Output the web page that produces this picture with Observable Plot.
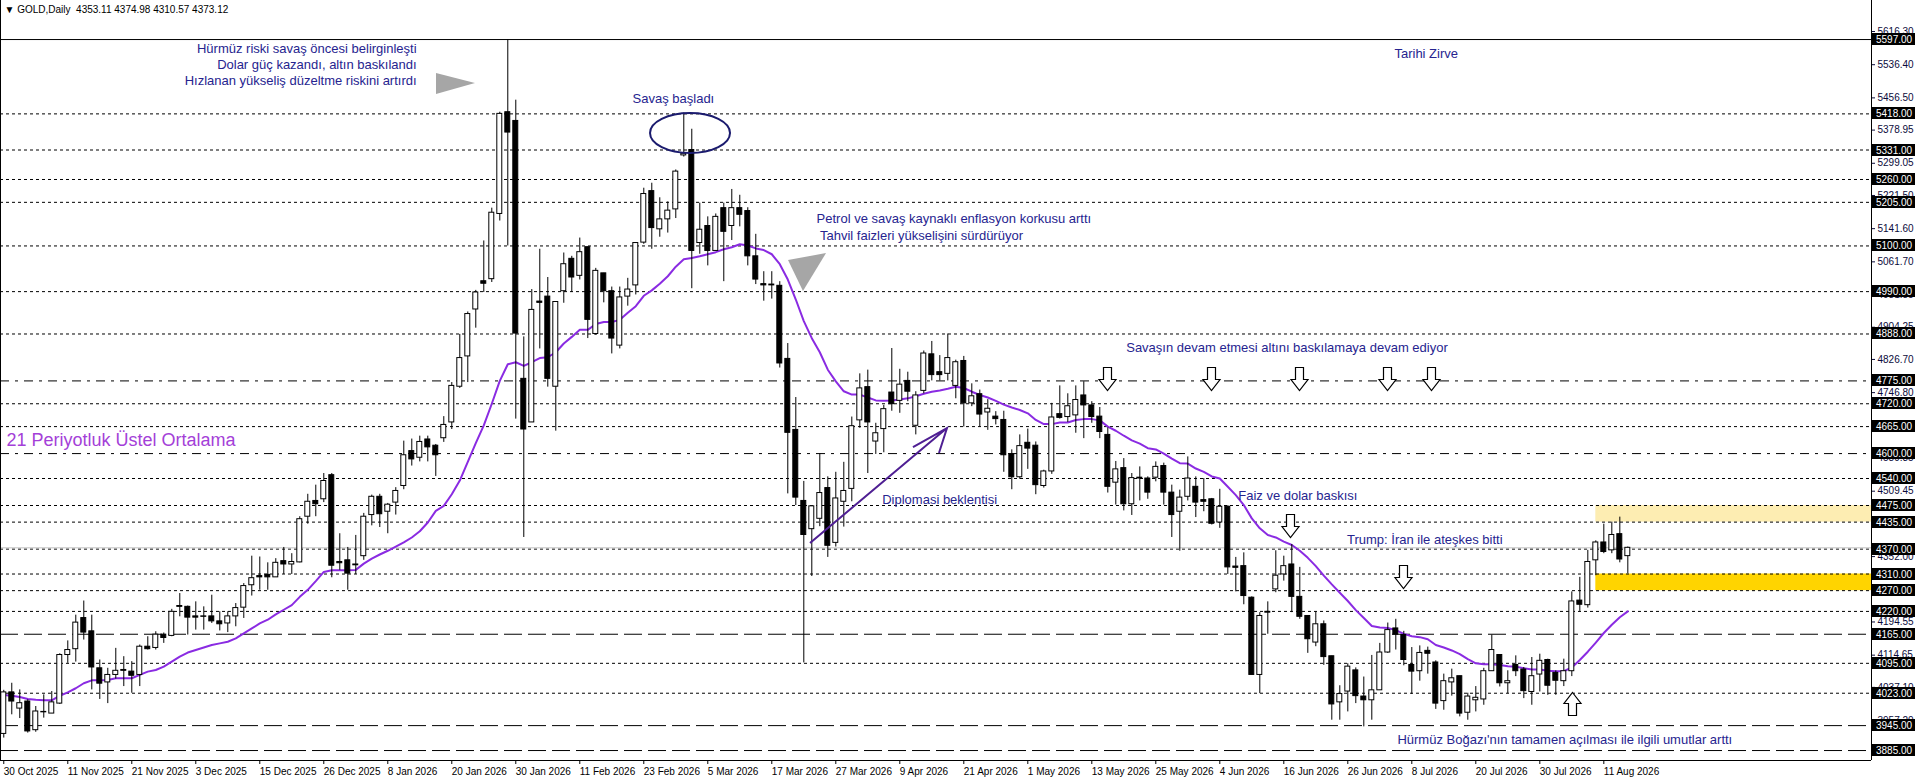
<!DOCTYPE html>
<html><head><meta charset="utf-8">
<script src="https://cdn.jsdelivr.net/npm/d3@7"></script>
<script src="https://cdn.jsdelivr.net/npm/@observablehq/plot@0.6"></script>
<style>html,body{margin:0;padding:0;background:#fff;overflow:hidden}#chart svg{display:block}</style>
</head><body><div id="chart"></div>
<script>
// ---------- DATA ----------
const symbolLabel = "GOLD,Daily";
const firstDate = "2025-10-30";
const holidays = ["2025-12-25", "2026-01-01", "2026-04-03"];

const opens = [3925,4025,3986,4003,3934,3977,3974,3998,4115,4129,
4204,4172,4083,4049,4067,4079,4075,4067,4135,4132,
4164,4161,4233,4231,4208,4208,4208,4196,4191,4208,
4229,4283,4305,4308,4302,4341,4333,4338,4448,4486,
4490,4548,4339,4343,4333,4353,4452,4496,4460,4482,
4522,4606,4590,4634,4619,4637,4675,4761,4834,4947,
5015,5020,5177,5422,5401,4780,4675,4966,4978,4761,
4991,5069,5028,5097,4888,5034,4991,4860,4978,5005,
5108,5232,5140,5164,5188,5318,5331,5107,5148,5088,
5191,5148,5191,5184,5075,5008,5007,5004,4828,4657,
4486,4418,4443,4517,4385,4484,4515,4680,4760,4629,
4659,4747,4727,4775,4667,4751,4839,4796,4792,4763,
4823,4721,4743,4699,4689,4681,4598,4543,4626,4619,
4522,4557,4695,4688,4692,4740,4716,4689,4645,4530,
4565,4478,4542,4540,4542,4570,4506,4460,4496,4520,
4488,4490,4434,4472,4328,4329,4253,4067,4219,4273,
4309,4333,4255,4209,4145,4189,4112,4001,4027,4078,
4015,4006,4030,4121,4179,4163,4091,4076,4125,4097,
4004,4049,4064,3976,4006,4008,4076,4115,4047,4091,
4080,4026,4068,4103,4072,4052,4076,4246,4235,4343,
4386,4367,4406,4353.11];

const highs = [4030,4047,4031,4007,3991,4019,4027,4118,4149,4211,
4245,4211,4103,4083,4131,4111,4099,4139,4159,4171,
4168,4225,4263,4233,4243,4231,4259,4219,4219,4239,
4287,4353,4351,4337,4347,4374,4359,4448,4502,4524,
4552,4552,4407,4374,4403,4456,4500,4502,4480,4518,
4630,4635,4642,4642,4622,4689,4771,4887,4941,4993,
5112,5191,5422,5597,5451,4881,4995,5092,5024,4965,
5083,5075,5119,5097,5046,5034,5001,5001,5022,5108,
5239,5251,5216,5206,5283,5420,5381,5203,5170,5177,
5203,5236,5222,5192,5128,5038,5038,5014,4865,4735,
4533,4473,4600,4544,4555,4579,4688,4792,4801,4673,
4716,4853,4803,4796,4749,4847,4870,4836,4888,4825,
4834,4768,4753,4730,4701,4702,4609,4645,4659,4628,
4560,4721,4763,4744,4763,4773,4725,4711,4662,4581,
4588,4552,4568,4544,4580,4577,4524,4512,4592,4544,
4540,4492,4514,4474,4350,4361,4255,4217,4243,4366,
4353,4381,4326,4209,4219,4197,4112,4041,4094,4084,
4062,4114,4143,4192,4201,4172,4133,4137,4134,4101,
4069,4081,4064,4023,4039,4083,4163,4115,4077,4113,
4085,4109,4117,4105,4077,4105,4267,4302,4367,4390,
4430,4435,4447,4374.98];

const lows = [3915,3971,3962,3927,3929,3963,3974,3996,4095,4098,
4151,4031,4008,3998,4057,4039,4023,4039,4127,4127,
4143,4159,4207,4163,4175,4175,4191,4173,4169,4183,
4203,4257,4271,4271,4302,4309,4309,4337,4430,4448,
4482,4301,4319,4271,4309,4343,4426,4422,4407,4452,
4513,4570,4580,4580,4545,4627,4658,4757,4771,4902,
4988,5012,5160,5100,4683,4398,4675,4852,4760,4654,
4962,4988,5018,4877,4885,4963,4840,4852,4955,4982,
5104,5092,5121,5131,5166,5314,4997,5080,5052,5088,
5014,5113,5146,5052,5007,4967,4972,4806,4503,4475,
4096,4304,4424,4350,4375,4423,4484,4661,4552,4598,
4602,4702,4697,4725,4645,4744,4775,4775,4775,4732,
4664,4713,4664,4656,4669,4555,4513,4538,4562,4501,
4517,4550,4683,4675,4649,4636,4673,4636,4505,4476,
4462,4451,4486,4490,4532,4476,4398,4365,4486,4446,
4460,4428,4420,4309,4267,4236,4066,4022,4165,4265,
4293,4217,4201,4119,4135,4090,3958,3958,3978,3998,
3942,3958,4030,4119,4127,4089,4020,4052,4069,3984,
3982,4016,3966,3958,3978,3994,4076,4038,4022,4063,
4010,3994,4026,4018,4018,4039,4063,4220,4228,4306,
4359,4359,4337,4310.57];

const closes = [4025,4003,3999,3931,3979,3978,4001,4115,4127,4193,
4169,4085,4046,4067,4077,4077,4065,4135,4129,4164,
4156,4219,4231,4205,4205,4207,4196,4189,4208,4228,
4281,4300,4302,4302,4337,4333,4339,4442,4484,4478,
4534,4330,4336,4311,4331,4448,4496,4454,4477,4510,
4596,4586,4628,4615,4596,4669,4763,4830,4936,4988,
5009,5180,5418,5373,4889,4658,4946,4963,4780,4965,
5056,5024,5085,4922,5040,4991,4877,4976,4995,5107,
5225,5143,5164,5185,5279,5322,5088,5139,5088,5170,
5134,5191,5175,5075,5019,5005,5005,4817,4650,4494,
4404,4473,4505,4378,4492,4510,4666,4757,4675,4649,
4707,4719,4766,4749,4740,4841,4789,4789,4830,4820,
4721,4738,4694,4708,4683,4596,4543,4618,4612,4524,
4557,4687,4686,4714,4729,4716,4688,4652,4520,4562,
4478,4541,4540,4506,4568,4506,4452,4494,4540,4482,
4484,4431,4472,4326,4325,4257,4067,4209,4217,4306,
4329,4255,4207,4153,4189,4110,3996,4021,4087,4016,
4006,4030,4121,4175,4164,4103,4075,4120,4118,3998,
4052,4059,3974,4015,4012,4076,4127,4047,4052,4076,
4028,4064,4101,4041,4053,4076,4244,4236,4339,4386,
4363,4404,4345,4373.12];

// 21-period EMA
const ema21 = [4019,4017,4014,4009,4007,4006,4006,4017,4025,4035,
4047,4054,4054,4055,4059,4059,4059,4067,4075,4079,
4087,4099,4111,4121,4127,4133,4139,4143,4147,4155,
4167,4179,4191,4200,4213,4224,4235,4255,4272,4293,
4315,4319,4319,4319,4320,4335,4347,4357,4366,4376,
4386,4398,4413,4434,4462,4474,4502,4535,4580,4625,
4668,4720,4775,4815,4820,4811,4820,4830,4832,4844,
4865,4881,4898,4898,4912,4917,4917,4922,4939,4955,
4980,4993,5009,5027,5050,5068,5071,5075,5080,5085,
5092,5097,5104,5101,5094,5090,5080,5056,5019,4971,
4919,4878,4844,4802,4774,4750,4742,4742,4735,4728,
4727,4728,4730,4733,4738,4744,4749,4752,4756,4761,
4758,4749,4741,4735,4727,4718,4711,4705,4697,4681,
4671,4671,4675,4675,4681,4683,4683,4680,4665,4655,
4643,4632,4624,4613,4610,4600,4588,4577,4576,4564,
4556,4545,4540,4520,4500,4476,4444,4420,4404,4398,
4388,4380,4366,4349,4329,4306,4285,4265,4245,4223,
4204,4185,4181,4180,4175,4166,4160,4158,4153,4139,
4133,4126,4117,4105,4095,4093,4093,4091,4088,4087,
4083,4080,4080,4077,4076,4076,4085,4103,4123,4145,
4168,4188,4206,4220];

const xTickLabels = ["30 Oct 2025","11 Nov 2025","21 Nov 2025","3 Dec 2025","15 Dec 2025","26 Dec 2025","8 Jan 2026","20 Jan 2026","30 Jan 2026","11 Feb 2026","23 Feb 2026","5 Mar 2026","17 Mar 2026","27 Mar 2026","9 Apr 2026","21 Apr 2026","1 May 2026","13 May 2026","25 May 2026","4 Jun 2026","16 Jun 2026","26 Jun 2026","8 Jul 2026","20 Jul 2026","30 Jul 2026","11 Aug 2026"];

const yTickValues = [5616.30,5536.40,5456.50,5378.95,5299.05,5221.50,5141.60,5061.70,4981.85,4904.25,4826.70,4746.80,4669.25,4589.35,4509.45,4431.90,4352.00,4274.45,4194.55,4114.65,4037.10,3957.20,3879.65];

const levels = [5597,5418,5331,5260,5205,5100,4990,4888,4775,4720,4665,4600,4540,4475,4435,4370,4310,4270,4220,4165,4095,4023,3945,3885];
const solidLevels = [5597];
const dashDotLevels = [4775, 4600];
const longDashLevels = [4165, 3945, 3885];

const zoneTops = [4475, 4310];
const zoneBottoms = [4435, 4270];
const zoneStart = "10 Aug 2026";

// ---------- BUILD ----------
const fmt = d3.utcFormat("%-d %b %Y");
const dates = [];
for (let d = new Date(firstDate + "T00:00:00Z"); dates.length < closes.length; d = new Date(d.getTime() + 864e5)) {
  const wd = d.getUTCDay(), iso = d.toISOString().slice(0, 10);
  if (wd !== 0 && wd !== 6 && !holidays.includes(iso)) dates.push(fmt(d));
}
const candles = closes.map((c, i) => ({i, date: dates[i], open: opens[i], high: highs[i], low: lows[i], close: c, ema: ema21[i]}));
const tickIdx = xTickLabels.map(l => dates.indexOf(l));
const xDomain = [-0.41, 233.46];
const yDomain = [3861, 5691];
const zones = zoneTops.map((t, k) => ({top: t, bottom: zoneBottoms[k], start: dates.indexOf(zoneStart)}));

const FONT = "'Liberation Sans', Arial, sans-serif";
const NAVY = "#26248f";

// annotation positions in (candle index, price)
const notesEnd = [
  {x: 51.6, y: 5575, t: "Hürmüz riski savaş öncesi belirginleşti"},
  {x: 51.6, y: 5537, t: "Dolar güç kazandı, altın baskılandı"},
  {x: 51.6, y: 5498, t: "Hızlanan yükseliş düzeltme riskini artırdı"}
];
const notesMid = [
  {x: 83.7, y: 5455, t: "Savaş başladı"},
  {x: 177.8, y: 5563, t: "Tarihi Zirve"}
];
const notesStart = [
  {x: 101.6, y: 5166, t: "Petrol ve savaş kaynaklı enflasyon korkusu arttı"},
  {x: 101.6, y: 5125, t: " Tahvil faizleri yükselişini sürdürüyor"},
  {x: 140.3, y: 4855, t: "Savaşın devam etmesi altını baskılamaya devam ediyor"},
  {x: 109.8, y: 4489, t: "Diplomasi beklentisi"},
  {x: 154.3, y: 4499, t: "Faiz ve dolar baskısı"},
  {x: 167.9, y: 4393, t: "Trump: İran ile ateşkes bitti"},
  {x: 174.2, y: 3911, t: "Hürmüz Boğazı'nın tamamen açılması ile ilgili umutlar arttı"}
];
const downArrows = [{x:137.96,y:4807},{x:150.96,y:4807},{x:161.96,y:4807},{x:172.96,y:4807},{x:178.46,y:4807},{x:160.85,y:4453},{x:174.97,y:4330}];
const upArrows = [{x:196.1,y:4025}];

function custom(draw) {
  return (index, scales, values, dims) => {
    const g = d3.create("svg:g");
    draw(g, scales.x, scales.y, dims);
    return g.node();
  };
}
const r5 = v => Math.round(v) + 0.5;

const chart = Plot.plot({
  width: 1916, height: 781,
  marginLeft: 0, marginRight: 45, marginTop: 0, marginBottom: 21,
  style: {fontFamily: FONT, background: "white", overflow: "visible"},
  x: {type: "linear", domain: xDomain},
  y: {domain: yDomain},
  marks: [
    Plot.rect(zones, {x1: "start", x2: () => xDomain[1], y1: "bottom", y2: "top", fill: (d, k) => k === 0 ? "#fdedb2" : "#ffd400"}),
    Plot.ruleY(levels.filter(v => !solidLevels.includes(v) && !dashDotLevels.includes(v) && !longDashLevels.includes(v)), {stroke: "black", strokeDasharray: "3,3"}),
    Plot.ruleY(dashDotLevels, {stroke: "black", strokeDasharray: "9,6,3,6"}),
    Plot.ruleY(longDashLevels, {stroke: "black", strokeDasharray: "18,6"}),
    Plot.ruleY(solidLevels, {stroke: "black"}),
    Plot.ruleY([closes[closes.length - 1]], {stroke: "#c0c0c0"}),
    Plot.line(candles, {x: "i", y: "ema", stroke: "#8a2be2", strokeWidth: 2}),
    Plot.ruleX(candles, {x: "i", y1: "low", y2: "high", stroke: "black", strokeWidth: 1}),
    Plot.rect(candles, {x1: d => d.i - 0.31, x2: d => d.i + 0.31, y1: "open", y2: "close",
      fill: d => d.close >= d.open ? "white" : "black", stroke: "black", strokeWidth: 1}),
    // annotations
    Plot.text(notesEnd, {x: "x", y: "y", text: "t", textAnchor: "end", fill: NAVY, fontSize: 13}),
    Plot.text(notesMid, {x: "x", y: "y", text: "t", textAnchor: "middle", fill: NAVY, fontSize: 13}),
    Plot.text(notesStart, {x: "x", y: "y", text: "t", textAnchor: "start", fill: NAVY, fontSize: 13}),
    Plot.text(["21 Periyotluk Üstel Ortalama"], {x: 0.34, y: 4631, text: d => d, textAnchor: "start", fill: "#a43fd8", fontSize: 18}),
    custom((g, x, y) => {
      g.append("polygon").attr("points", [[54.09,5515],[54.09,5464.5],[58.96,5491]].map(([a,b]) => [x(a), y(b)].join(",")).join(" ")).attr("fill", "#a6a6a6");
      g.append("polygon").attr("points", [[98.09,5064.8],[102.84,5081.7],[99.96,4990.2]].map(([a,b]) => [x(a), y(b)].join(",")).join(" ")).attr("fill", "#a6a6a6");
      g.append("ellipse").attr("cx", x(85.84)).attr("cy", y(5370.6)).attr("rx", 40).attr("ry", 20)
        .attr("fill", "none").attr("stroke", "#1b1b6e").attr("stroke-width", 2);
      const pa = "#4f1f93";
      g.append("path").attr("d", `M${x(100.84)},${y(4383.4)}L${x(117.96)},${y(4660.3)}M${x(113.71)},${y(4614.5)}L${x(117.96)},${y(4660.3)}L${x(116.96)},${y(4600.1)}`)
        .attr("fill", "none").attr("stroke", pa).attr("stroke-width", 2);
      for (const a of downArrows) {
        const cx = r5(x(a.x)), t = r5(y(a.y));
        g.append("path").attr("d", `M${cx-4},${t}H${cx+4}V${t+12}H${cx+8.5}L${cx},${t+23}L${cx-8.5},${t+12}H${cx-4}Z`)
          .attr("fill", "white").attr("stroke", "black").attr("stroke-width", 1.2);
      }
      for (const a of upArrows) {
        const cx = r5(x(a.x)), t = r5(y(a.y));
        g.append("path").attr("d", `M${cx},${t}L${cx+8.5},${t+11}H${cx+4}V${t+23}H${cx-4}V${t+11}H${cx-8.5}Z`)
          .attr("fill", "white").attr("stroke", "black").attr("stroke-width", 1.2);
      }
    }),
    Plot.ruleX([xDomain[0]], {stroke: "black"}),
    Plot.ruleX([xDomain[1]], {stroke: "black"}),
    Plot.ruleY([yDomain[0]], {stroke: "black"}),
    Plot.axisX({ticks: tickIdx, tickFormat: i => dates[i], tickSize: 4, tickPadding: 3, textAnchor: "start", dx: 0, fontSize: 10, color: "black", label: null}),
    Plot.axisY({anchor: "right", ticks: yTickValues, tickFormat: d3.format(".2f"), tickSize: 3, tickPadding: 3, fontSize: 10, color: "#0b0b3b", label: null}),
    custom((g, x, y, dims) => {
      const x0 = dims.width - dims.marginRight + 1;
      for (const v of levels) {
        const yy = Math.round(y(v));
        g.append("rect").attr("x", x0).attr("y", yy - 6).attr("width", 43).attr("height", 12).attr("fill", "black");
        g.append("text").attr("x", x0 + 4).attr("y", yy).attr("dy", "0.35em").attr("fill", "white")
          .attr("text-anchor", "start").attr("font-size", 10).attr("font-family", FONT).text(v.toFixed(2));
      }
    }),
    Plot.text([`▼ ${symbolLabel}  ${[opens, highs, lows, closes].map(a => a[a.length - 1].toFixed(2)).join(" ")}`],
      {frameAnchor: "top-left", dx: 4, dy: 5, text: d => d, fontSize: 10, fill: "black", textAnchor: "start"})
  ]
});
document.getElementById("chart").appendChild(chart);
</script>
</body></html>
